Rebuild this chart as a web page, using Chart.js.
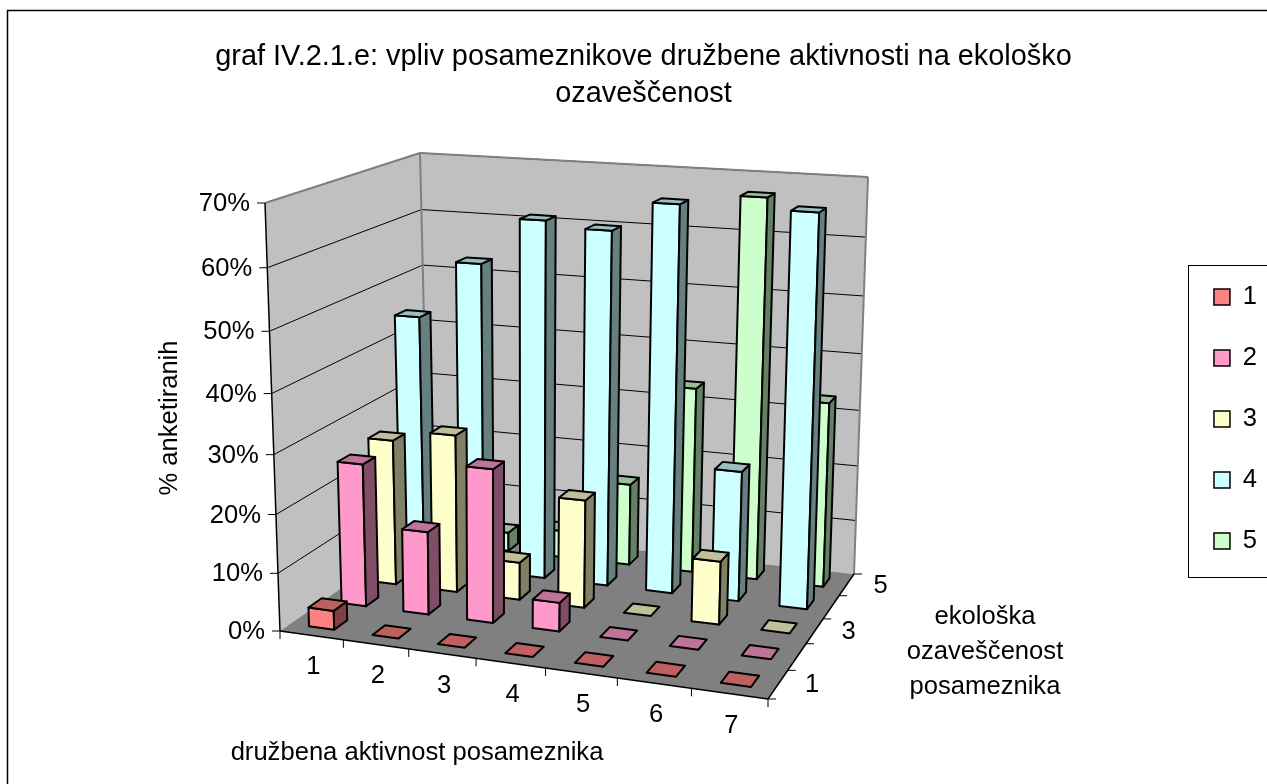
<!DOCTYPE html>
<html>
<head>
<meta charset="utf-8">
<style>
  html, body { margin: 0; padding: 0; background: #fff; overflow: hidden; }
  canvas { display: block; }
</style>
<script src="https://cdn.jsdelivr.net/npm/chart.js@4/dist/chart.umd.js"></script>
</head>
<body>
<canvas id="chart" width="1267" height="784"></canvas>
<script>
const categories = ['1', '2', '3', '4', '5', '6', '7'];
const seriesNames = ['1', '2', '3', '4', '5'];
const depthTicks = ['1', '', '3', '', '5'];
const series1 = [3.3, 0, 0, 0, 0, 0, 0];
const series2 = [25, 14.5, 26.5, 5, 0, 0, 0];
const series3 = [26, 28, 6.7, 19, 0, 11, 0];
const series4 = [45, 55, 63, 62, 67, 23, 67];
const series5 = [3.5, 3.5, 5, 15, 33.5, 67, 33];
const seriesValues = [series1, series2, series3, series4, series5];
const seriesColors = ['#FF8080', '#FF99CC', '#FFFFCC', '#CCFFFF', '#CCFFCC'];
const chartTitle = ['graf IV.2.1.e: vpliv posameznikove družbene aktivnosti na ekološko', 'ozaveščenost'];
const yTitle = '% anketiranih';
const xTitle = 'družbena aktivnost posameznika';
const depthTitle = ['ekološka', 'ozaveščenost', 'posameznika'];

const FONT = '"Liberation Sans", Arial, sans-serif';
const BAR_FRACTION = 0.4;

// corners of the 3D box as seen on the page: front-left, front-right, back-right, back-left
const floorCorners = [[280, 631], [768, 699], [854, 574], [429, 527]];
const topCorners = [[265, 203], [780, 235], [868, 177], [420, 153]];
const heightPerspective = 1.07;

function homography(q) {
  const [[x0, y0], [x1, y1], [x2, y2], [x3, y3]] = q;
  const dx1 = x1 - x2, dx2 = x3 - x2, sx = x0 - x1 + x2 - x3;
  const dy1 = y1 - y2, dy2 = y3 - y2, sy = y0 - y1 + y2 - y3;
  const det = dx1 * dy2 - dx2 * dy1;
  const g = (sx * dy2 - dx2 * sy) / det;
  const h = (dx1 * sy - sx * dy1) / det;
  const a = x1 - x0 + g * x1, b = x3 - x0 + h * x3;
  const d = y1 - y0 + g * y1, e = y3 - y0 + h * y3;
  return (u, v) => {
    const n = g * u + h * v + 1;
    return [(a * u + b * v + x0) / n, (d * u + e * v + y0) / n];
  };
}
const floorMap = homography(floorCorners);
const topMap = homography(topCorners);

// u along categories, v along depth, w up the value axis, all 0..1
function project(u, v, w) {
  const f = w / (w + heightPerspective * (1 - w));
  const a = floorMap(u, v), b = topMap(u, v);
  return [a[0] + (b[0] - a[0]) * f, a[1] + (b[1] - a[1]) * f];
}

// position on a scale as a 0..1 fraction
function frac(scale, value) {
  return scale.getDecimalForPixel(scale.getPixelForValue(value));
}

function shade(hex, k) {
  const n = parseInt(hex.slice(1), 16);
  const c = [(n >> 16) & 255, (n >> 8) & 255, n & 255].map(x => Math.round(x * k));
  return `rgb(${c[0]},${c[1]},${c[2]})`;
}

function poly(ctx, pts, fill, stroke, width) {
  ctx.beginPath();
  pts.forEach((p, i) => (i ? ctx.lineTo(p[0], p[1]) : ctx.moveTo(p[0], p[1])));
  ctx.closePath();
  if (fill) { ctx.fillStyle = fill; ctx.fill(); }
  if (stroke) { ctx.strokeStyle = stroke; ctx.lineWidth = width; ctx.stroke(); }
}

function line(ctx, a, b, color, width) {
  ctx.beginPath();
  ctx.moveTo(a[0], a[1]);
  ctx.lineTo(b[0], b[1]);
  ctx.strokeStyle = color;
  ctx.lineWidth = width;
  ctx.stroke();
}

// bar controller that draws each value as a box through the x, depth and y scales
class Bar3dController extends Chart.BarController {
  draw() {
    const chart = this.chart, ctx = chart.ctx;
    const xs = chart.scales.x, ys = chart.scales.y, ds = chart.scales.depth;
    const color = this.getDataset().backgroundColor;
    const values = this.getDataset().data;
    const du = BAR_FRACTION / 2 / xs.getLabels().length;
    const dv = BAR_FRACTION / 2 / ds.getLabels().length;
    const v = frac(ds, this.index);
    ctx.save();
    ctx.lineJoin = 'round';
    values.forEach((value, i) => {
      const u = frac(xs, i);
      const w = frac(ys, value);
      const u0 = u - du, u1 = u + du, v0 = v - dv, v1 = v + dv;
      if (value > 0) {
        poly(ctx, [project(u0, v0, 0), project(u1, v0, 0), project(u1, v0, w), project(u0, v0, w)], color, '#000', 2);
        poly(ctx, [project(u1, v0, 0), project(u1, v1, 0), project(u1, v1, w), project(u1, v0, w)], shade(color, 0.5), '#000', 2);
      }
      poly(ctx, [project(u0, v0, w), project(u1, v0, w), project(u1, v1, w), project(u0, v1, w)], shade(color, 0.75), '#000', 2);
    });
    ctx.restore();
  }
}
Bar3dController.id = 'bar3d';
Chart.register(Bar3dController);

const box3d = {
  id: 'box3d',
  beforeDraw(chart) {
    const ctx = chart.ctx;
    ctx.save();
    ctx.fillStyle = '#fff';
    ctx.fillRect(0, 0, chart.width, chart.height);
    ctx.strokeStyle = '#000';
    ctx.lineWidth = 1.5;
    ctx.strokeRect(7.5, 10.5, chart.width + 20, chart.height + 20);
    ctx.lineWidth = 1;
    ctx.strokeRect(1188.5, 265.5, 200, 312);
    ctx.restore();
  },
  beforeDatasetsDraw(chart) {
    const ctx = chart.ctx, ys = chart.scales.y, xs = chart.scales.x, ds = chart.scales.depth;
    ctx.save();
    // walls and floor
    poly(ctx, [project(0, 0, 0), project(0, 1, 0), project(0, 1, 1), project(0, 0, 1)], '#C0C0C0');
    poly(ctx, [project(0, 1, 0), project(1, 1, 0), project(1, 1, 1), project(0, 1, 1)], '#C0C0C0');
    poly(ctx, [project(0, 0, 0), project(1, 0, 0), project(1, 1, 0), project(0, 1, 0)], '#808080');
    // gridlines
    ys.ticks.forEach(t => {
      if (t.value === 0) return;
      const w = frac(ys, t.value);
      line(ctx, project(0, 0, w), project(0, 1, w), '#000', 1);
      line(ctx, project(0, 1, w), project(1, 1, w), '#000', 1);
    });
    // wall edges
    line(ctx, project(0, 0, 1), project(0, 1, 1), '#808080', 2);
    line(ctx, project(0, 1, 1), project(1, 1, 1), '#808080', 2);
    line(ctx, project(1, 1, 1), project(1, 1, 0), '#808080', 2);
    line(ctx, project(0, 1, 1), project(0, 1, 0), '#808080', 2);
    // axis lines
    line(ctx, project(0, 0, 0), project(0, 0, 1), '#000', 1.5);
    line(ctx, project(0, 0, 0), project(1, 0, 0), '#000', 1.5);
    line(ctx, project(1, 0, 0), project(1, 1, 0), '#000', 1.5);

    ctx.fillStyle = '#000';
    ctx.textBaseline = 'middle';
    ctx.font = '25.6px ' + FONT;
    // value axis
    ctx.textAlign = 'right';
    ys.ticks.forEach(t => {
      const p = project(0, 0, frac(ys, t.value));
      line(ctx, p, [p[0] - 8, p[1]], '#000', 1);
      ctx.fillText(t.label, p[0] - 15, p[1] + 1);
    });
    // category axis
    ctx.textAlign = 'center';
    const nx = xs.getLabels().length, nd = ds.getLabels().length;
    for (let i = 0; i <= nx; i++) {
      const p = project(i / nx, 0, 0);
      line(ctx, p, [p[0], p[1] + 8], '#000', 1);
    }
    xs.getLabels().forEach((label, i) => {
      const p = project(frac(xs, i), 0, 0);
      ctx.fillText(label, p[0] + 2, p[1] + 32);
    });
    // depth axis
    for (let i = 0; i <= nd; i++) {
      const p = project(1, i / nd, 0);
      line(ctx, p, [p[0] + 8, p[1]], '#000', 1);
    }
    depthTicks.forEach((label, i) => {
      const p = project(1, frac(ds, i), 0);
      ctx.fillText(label, p[0] + 34, p[1] + 1);
    });
    // axis titles
    ctx.fillText(xTitle, 417, 753);
    depthTitle.forEach((text, i) => ctx.fillText(text, 985, 617 + i * 35));
    ctx.translate(170, 418);
    ctx.rotate(-Math.PI / 2);
    ctx.fillText(yTitle, 0, 0);
    ctx.restore();
  }
};

new Chart(document.getElementById('chart'), {
  type: 'bar3d',
  data: {
    labels: categories,
    datasets: seriesNames.map((name, i) => ({
      label: name,
      data: seriesValues[i],
      backgroundColor: seriesColors[i],
      borderColor: '#000',
      borderWidth: 1.5,
      clip: false
    }))
  },
  options: {
    responsive: false,
    animation: false,
    layout: { padding: { left: 20, right: 0, top: 0, bottom: 144 } },
    scales: {
      x: { type: 'category', offset: true, display: false },
      depth: { type: 'category', axis: 'x', labels: seriesNames, offset: true, display: false },
      y: {
        type: 'linear', min: 0, max: 70, display: false,
        ticks: { stepSize: 10, callback: value => value + '%' }
      }
    },
    plugins: {
      title: {
        display: true,
        text: chartTitle,
        color: '#000',
        font: { family: FONT, size: 28.9, weight: 'normal', lineHeight: 1.28 },
        padding: { top: 39, bottom: 85 }
      },
      legend: {
        position: 'right',
        fullSize: false,
        labels: {
          color: '#000',
          font: { family: FONT, size: 25.6 },
          boxWidth: 16,
          boxHeight: 16,
          padding: 35.4
        }
      },
      tooltip: { enabled: false }
    }
  },
  plugins: [box3d]
});
</script>
</body>
</html>
